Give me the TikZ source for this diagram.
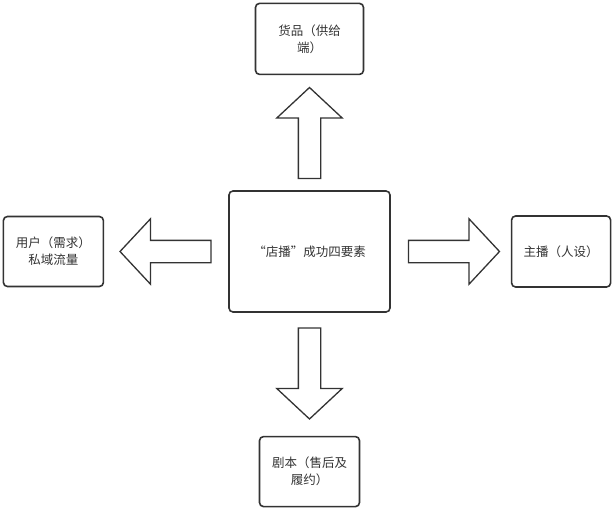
\documentclass[tikz,border=0pt]{standalone}
\usepackage{fontspec}
\setmainfont{Noto Sans CJK SC}
\usetikzlibrary{positioning,calc,shapes.arrows}
\definecolor{inkgray}{HTML}{333333}
\tikzset{
  elem/.style={draw=inkgray, line width=1.6pt, rounded corners=4pt, fill=white,
    align=center, text=inkgray, font=\fontsize{12.5}{17}\selectfont, inner sep=2pt},
  blockarrow/.style={single arrow, draw=inkgray, line width=1.3pt, fill=white,
    minimum height=91pt, minimum width=64pt, single arrow head extend=21.5pt,
    single arrow tip angle=94, inner sep=10.5pt},
}

\begin{document}
\begin{tikzpicture}[x=1pt,y=-1pt]
  \useasboundingbox (0,0) rectangle (614,509);
  % the four elements round the hub
  \node[elem, minimum width=161pt, minimum height=121pt] (hub) at (309.5,251.5) {“店播”成功四要素};
  \node[elem, minimum width=108pt, minimum height=71pt, above=115pt of hub] (supply) {货品（供给\\端）};
  \node[elem, minimum width=100pt, minimum height=70pt, left=124pt of hub] (users) {用户（需求）\\私域流量};
  \node[elem, minimum width=99pt, minimum height=71pt, right=120pt of hub] (host) {主播（人设）};
  \node[elem, minimum width=100pt, minimum height=70pt, below=123pt of hub] (script) {剧本（售后及\\履约）};
  % block arrows
  \node[blockarrow, shape border rotate=90, yshift=-5.5pt] (upArrow) at ($(hub.north)!0.5!(supply.south)$) {};
  \node[blockarrow, shape border rotate=180, xshift=4.5pt] (leftArrow) at ($(hub.west)!0.5!(users.east)$) {};
  \node[blockarrow, shape border rotate=0, xshift=-2pt] (rightArrow) at ($(hub.east)!0.5!(host.west)$) {};
  \node[blockarrow, shape border rotate=270, yshift=6pt] (downArrow) at ($(hub.south)!0.5!(script.north)$) {};
\end{tikzpicture}
\end{document}
